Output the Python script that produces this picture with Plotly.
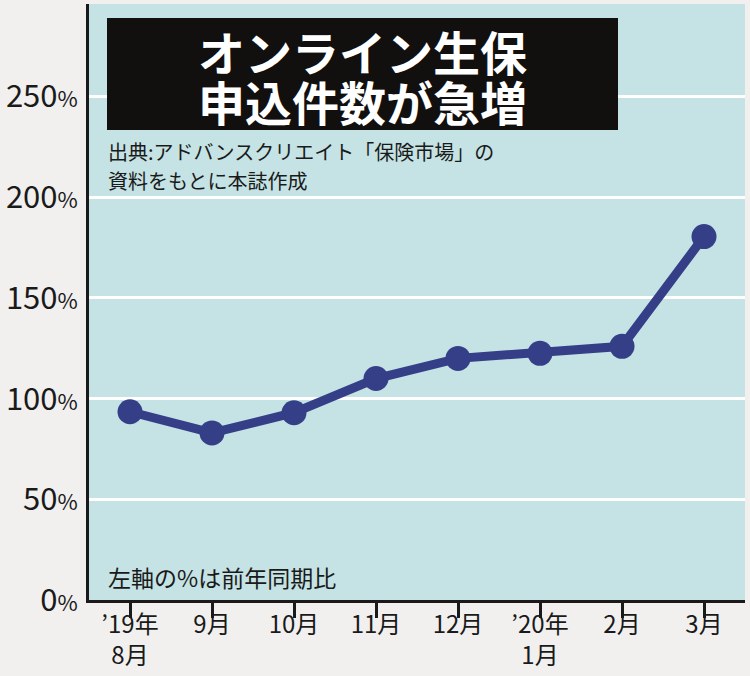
import plotly.graph_objects as go

# data
months = ["’19年<br>8月", "9月", "10月", "11月", "12月", "’20年<br>1月", "2月", "3月"]
growth_pct = [93.5, 83, 93, 110, 120, 122.5, 126, 180.5]
y_ticks = [0, 50, 100, 150, 200, 250]

JP = "Noto Sans CJK JP"
NAVY = "#353f88"
TEAL = "#c5e3e4"

# plot area in pixels (left, right, top, bottom)
PL, PR, PT, PB = 89, 745, 4, 600


def px_x(p):
    return (p - PL) / (PR - PL)


def px_y(p):
    return (PB - p) / (PB - PT)


fig = go.Figure(go.Scatter(
    x=list(range(len(months))),
    y=growth_pct,
    mode="lines+markers",
    line=dict(color=NAVY, width=9),
    marker=dict(color=NAVY, size=25),
    hoverinfo="skip",
))

fig.update_layout(
    width=750,
    height=676,
    margin=dict(l=PL, r=750 - PR, t=PT, b=676 - PB, autoexpand=False),
    paper_bgcolor="#f1f0ef",
    plot_bgcolor=TEAL,
    showlegend=False,
    font=dict(family=JP, color="#1a1a1a"),
)

fig.update_xaxes(
    range=[-0.5, len(months) - 0.5],
    tickmode="array",
    tickvals=list(range(len(months))),
    ticktext=months,
    tickson="boundaries",
    ticks="outside",
    ticklen=15,
    tickwidth=3,
    tickcolor="#1a1a1a",
    ticklabelstandoff=-14,
    showgrid=False,
    showline=True,
    linecolor="#1a1a1a",
    linewidth=3,
    tickfont=dict(family=JP, size=24, color="#1a1a1a"),
    zeroline=False,
    automargin=False,
)

fig.update_yaxes(
    range=[0, 296],
    tickmode="array",
    tickvals=y_ticks,
    ticktext=[f"{v}<span style='font-size:22px'>%</span>" for v in y_ticks],
    ticks="",
    ticklabelstandoff=2,
    showgrid=True,
    gridcolor="white",
    gridwidth=3,
    showline=True,
    linecolor="#1a1a1a",
    linewidth=3,
    tickfont=dict(family=JP, size=31, color="#1a1a1a"),
    zeroline=False,
    automargin=False,
)

# black title box
fig.add_shape(
    type="rect", xref="paper", yref="paper",
    x0=px_x(107), x1=px_x(618), y0=px_y(130), y1=px_y(18),
    fillcolor="#120f0f", line=dict(width=0), layer="above",
)

for txt, yc in [("オンライン生保", 51), ("申込件数が急増", 100)]:
    fig.add_annotation(
        text=txt, xref="paper", yref="paper",
        x=px_x(362), y=px_y(yc), xanchor="center", yanchor="middle",
        showarrow=False,
        font=dict(family=JP, size=47, color="white", weight="bold"),
    )

for txt, yc in [("出典:アドバンスクリエイト「保険市場」の", 152), ("資料をもとに本誌作成", 180)]:
    fig.add_annotation(
        text=txt, xref="paper", yref="paper",
        x=px_x(106), y=px_y(yc), xanchor="left", yanchor="middle",
        showarrow=False,
        font=dict(family=JP, size=20, color="#1a1a1a"),
    )

fig.add_annotation(
    text="左軸の%は前年同期比", xref="paper", yref="paper",
    x=px_x(106), y=px_y(577), xanchor="left", yanchor="middle",
    showarrow=False,
    font=dict(family=JP, size=23, color="#1a1a1a"),
)

# the page's default body margin would push the figure 8px off the corner
fig.write_html(
    "out.html",
    config={"displayModeBar": False},
    post_script="document.body.style.margin='0';",
)
